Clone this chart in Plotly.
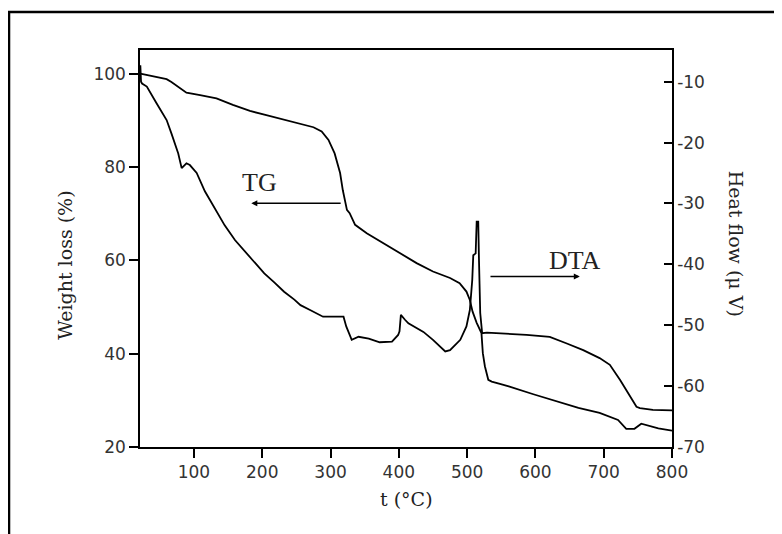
import plotly.graph_objects as go

# ---- data ----
tg_t = [21.5, 40, 60, 67, 79.5, 89, 109, 133, 157, 182, 206, 231, 255, 275, 287, 297, 306, 314,
        318, 321, 324, 328, 336, 353, 377, 402, 426, 450, 475, 489, 499, 504, 508, 514, 519, 521,
        523, 526, 531, 536, 548, 561, 597, 641, 663, 694, 721, 733, 745, 755, 765, 780, 800]
tg_w = [100, 99.5, 98.8, 98.2, 96.8, 95.9, 95.4, 94.7, 93.3, 92.0, 91.1, 90.1, 89.3, 88.5, 87.6,
        85.8, 82.9, 78.7, 75.0, 72.9, 70.8, 70.1, 67.6, 65.8, 63.7, 61.5, 59.4, 57.6, 56.2, 55.1,
        53.3, 51.5, 49.0, 46.6, 44.8, 44.4, 40.1, 37.3, 34.4, 34.0, 33.5, 33.0, 31.3, 29.4, 28.4,
        27.3, 25.8, 23.9, 23.9, 25.0, 24.6, 24.0, 23.5]

dta_t = [21.5, 22.5, 24, 31, 45, 60, 67, 77, 82, 86, 89, 94, 104, 116, 131, 145, 160, 167, 178,
         189, 203, 218, 232, 247, 256, 270, 289, 319, 323, 331, 341, 356, 372, 390, 399, 401, 403,
         409, 414, 436, 450, 468, 475, 490, 499, 504, 507.5, 509, 512.5, 514, 516.3, 517.3, 519.2,
         522, 529, 587, 621, 646, 670, 694, 709, 724, 738, 748, 753, 772, 800]
dta_h = [-7.3, -10.0, -10.3, -10.8, -13.5, -16.3, -18.5, -21.8, -24.2, -23.8, -23.4, -23.7, -25.0,
         -28.0, -30.8, -33.6, -36.0, -36.9, -38.4, -39.7, -41.5, -43.0, -44.5, -45.8, -46.7, -47.5,
         -48.6, -48.6, -50.2, -52.4, -51.9, -52.2, -52.8, -52.7, -51.6, -51.0, -48.3, -49.1, -49.7,
         -51.1, -52.4, -54.3, -54.1, -52.4, -50.2, -47.5, -42.6, -38.5, -38.2, -33.0, -33.0, -39.0,
         -48.0, -51.3, -51.2, -51.6, -51.9, -53.0, -54.1, -55.4, -56.5, -59.0, -61.7, -63.4, -63.6,
         -63.9, -64.0]

x_ticks = [100, 200, 300, 400, 500, 600, 700, 800]
y_ticks = [20, 40, 60, 80, 100]
y2_ticks = [-70, -60, -50, -40, -30, -20, -10]
y2_text = ["-70", "-60", "-50", "-40", "-30", "-20", "-10"]

tick_font = dict(family="DejaVu Sans", size=17, color="#333333")
title_font = dict(family="DejaVu Serif", size=19, color="#222222")
label_font = dict(family="Liberation Serif", size=26, color="#222222")

fig = go.Figure()
fig.add_trace(go.Scatter(x=tg_t, y=tg_w, mode="lines", line=dict(color="black", width=1.8),
                         yaxis="y", showlegend=False, name="TG"))
fig.add_trace(go.Scatter(x=dta_t, y=dta_h, mode="lines", line=dict(color="black", width=1.8),
                         yaxis="y2", showlegend=False, name="DTA"))

fig.update_layout(
    width=782, height=534,
    margin=dict(l=132, r=118, t=42, b=95),
    paper_bgcolor="white", plot_bgcolor="white",
    xaxis=dict(range=[21, 800], tickvals=x_ticks, ticks="outside", ticklen=9, tickwidth=1.5,
               tickcolor="black", showline=True, linecolor="black", linewidth=1.5, mirror=True,
               showgrid=False, zeroline=False, tickfont=tick_font),
    yaxis=dict(range=[20, 105.05], tickvals=y_ticks, ticks="outside", ticklen=9, tickwidth=1.5,
               tickcolor="black", showline=True, linecolor="black", linewidth=1.5, mirror=True,
               showgrid=False, zeroline=False, tickfont=tick_font),
    yaxis2=dict(range=[-70, -4.8], tickvals=y2_ticks, ticktext=y2_text, overlaying="y", side="right",
                ticks="inside", ticklen=8, tickwidth=1.5, tickcolor="black", showline=True,
                linecolor="black", linewidth=1.5, showgrid=False, zeroline=False, tickfont=tick_font),
)

annotations = [
    dict(text="Weight loss (%)", xref="paper", yref="paper", x=-0.141, y=0.459, textangle=-90,
         showarrow=False, font=title_font, xanchor="center", yanchor="middle"),
    dict(text="Heat flow (μ V)", xref="paper", yref="paper", x=1.1197, y=0.513, textangle=90,
         showarrow=False, font=title_font, xanchor="center", yanchor="middle"),
    dict(text="t (°C)", xref="paper", yref="paper", x=0.5, y=-0.132,
         showarrow=False, font=title_font, xanchor="center", yanchor="middle"),
    dict(text="TG", x=196, y=76.7, xref="x", yref="y", showarrow=False, font=label_font),
    dict(text="DTA", x=658.6, y=-39.4, xref="x", yref="y2", showarrow=False, font=label_font),
    dict(text="", x=184, y=72.2, xref="x", yref="y", ax=317, ay=72.2, axref="x", ayref="y",
         showarrow=True, arrowhead=2, arrowsize=0.8, arrowwidth=1.5, arrowcolor="black"),
    dict(text="", x=665, y=-42.0, xref="x", yref="y2", ax=532, ay=-42.0, axref="x", ayref="y2",
         showarrow=True, arrowhead=2, arrowsize=0.8, arrowwidth=1.5, arrowcolor="black"),
]
fig.update_layout(annotations=annotations)

fig.add_shape(type="rect", xref="paper", yref="paper", x0=-0.2462, x1=1.25, y0=-0.26, y1=1.0957,
              line=dict(color="black", width=2.5), fillcolor="rgba(0,0,0,0)", layer="above")

fig.write_html("out.html")
